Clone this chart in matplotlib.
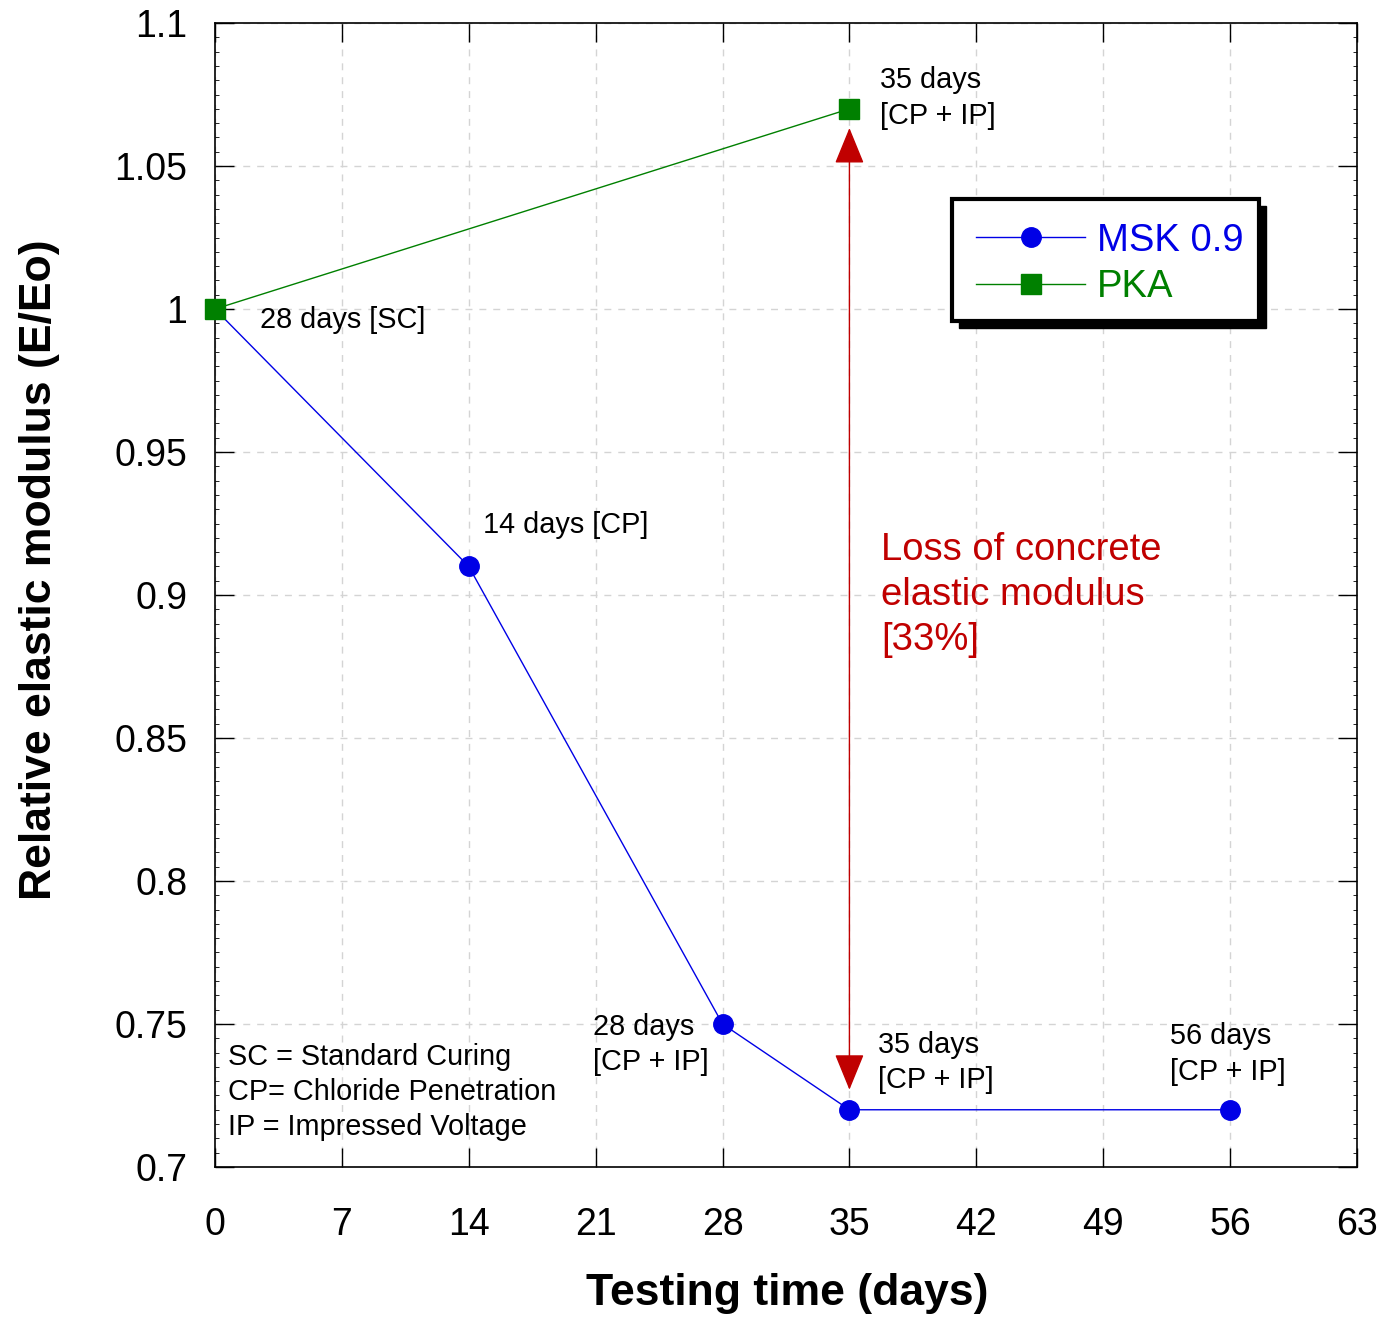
import numpy as np
import matplotlib
matplotlib.use("Agg")
import matplotlib.pyplot as plt
from matplotlib.patches import Rectangle
from matplotlib.ticker import MultipleLocator, FormatStrFormatter

plt.rcParams['font.family'] = ['Liberation Sans', 'DejaVu Sans']

# data
msk_days = [0, 14, 28, 35, 56]
msk_ratio = [1.0, 0.91, 0.75, 0.72, 0.72]
pka_days = [0, 35]
pka_ratio = [1.0, 1.07]

x_ticks = [0, 7, 14, 21, 28, 35, 42, 49, 56, 63]

BLUE = '#0000E6'
GREEN = '#008000'
RED = '#C00000'

fig = plt.figure(figsize=(13.84, 13.18), dpi=100)
ax = fig.add_axes([0.1553, 0.1146, 0.8252, 0.8679])

ax.plot(msk_days, msk_ratio, color=BLUE, lw=1.0, marker='o', ms=14,
        label='MSK 0.9', zorder=5, clip_on=False)
ax.plot(pka_days, pka_ratio, color=GREEN, lw=1.0, marker='s', ms=15,
        label='PKA', zorder=5, clip_on=False)

ax.set_xlim(0, 63)
ax.set_ylim(0.7, 1.1)
ax.set_xticks(x_ticks)
ax.yaxis.set_major_locator(MultipleLocator(0.05))
ax.yaxis.set_minor_locator(MultipleLocator(0.005))
ax.yaxis.set_major_formatter(FormatStrFormatter('%g'))
ax.tick_params(which='major', direction='in', length=14, width=1.0,
               top=True, right=True, labelsize=27)
ax.tick_params(which='minor', direction='in', length=3, width=0.6,
               top=True, right=True)
ax.tick_params(axis='x', pad=29)
ax.tick_params(axis='y', pad=20)
for s in ax.spines.values():
    s.set_linewidth(1.2)
ax.grid(True, which='major', color='#d4d4d4', ls=(0, (5, 5)), lw=1.0)
ax.set_axisbelow(True)

# loss arrow
ax.annotate('', xy=(35, 1.0633), xytext=(35, 0.727),
            arrowprops=dict(arrowstyle='<|-|>,head_length=1.15,head_width=0.47',
                            mutation_scale=20, color=RED, lw=1.0,
                            shrinkA=0, shrinkB=0))
ax.text(36.74, 0.9, 'Loss of concrete\nelastic modulus\n[33%]', color=RED,
        fontsize=27.5, ha='left', va='center', linespacing=1.31)

# point annotations
fs = 20.8
ls = 1.33
ax.text(2.48, 0.9962, '28 days [SC]', fontsize=fs, va='center')
ax.text(14.78, 0.9245, '14 days [CP]', fontsize=fs, va='center')
ax.text(20.85, 0.7428, '28 days\n[CP + IP]', fontsize=fs, va='center', linespacing=ls)
ax.text(36.58, 0.7364, '35 days\n[CP + IP]', fontsize=fs, va='center', linespacing=ls)
ax.text(52.68, 0.7395, '56 days\n[CP + IP]', fontsize=fs, va='center', linespacing=ls)
ax.text(36.69, 1.0738, '35 days\n[CP + IP]', fontsize=fs, va='center', linespacing=ls)
ax.text(0.72, 0.7262, 'SC = Standard Curing\nCP= Chloride Penetration\nIP = Impressed Voltage',
        fontsize=fs, va='center', linespacing=ls)

# legend box with hard shadow
bx, by, bw, bh = 0.6454, 0.7395, 0.2688, 0.1067
dx, dy = 7 / 1142, 7 / 1144
ax.add_patch(Rectangle((bx + dx, by - dy), bw, bh, transform=ax.transAxes,
                       facecolor='black', edgecolor='black', zorder=6))
ax.add_patch(Rectangle((bx, by), bw, bh, transform=ax.transAxes,
                       facecolor='white', edgecolor='black', lw=3, zorder=7))
leg = ax.legend(loc='center left', bbox_to_anchor=(0.6532, by + bh / 2 - 4 / 1144),
                frameon=False, fontsize=27.5, labelcolor='linecolor',
                handlelength=2.85, handletextpad=0.31, labelspacing=0.28,
                borderaxespad=0)
leg.set_zorder(8)

fig.text(787 / 1384, 1 - 1293 / 1318, 'Testing time (days)', fontsize=32,
         fontweight='bold', ha='center', va='center')
fig.text(40 / 1384, 1 - 570 / 1318, 'Relative elastic modulus (E/Eo)', fontsize=32,
         fontweight='bold', ha='center', va='center', rotation=90)

fig.savefig('out.png', dpi=100)
